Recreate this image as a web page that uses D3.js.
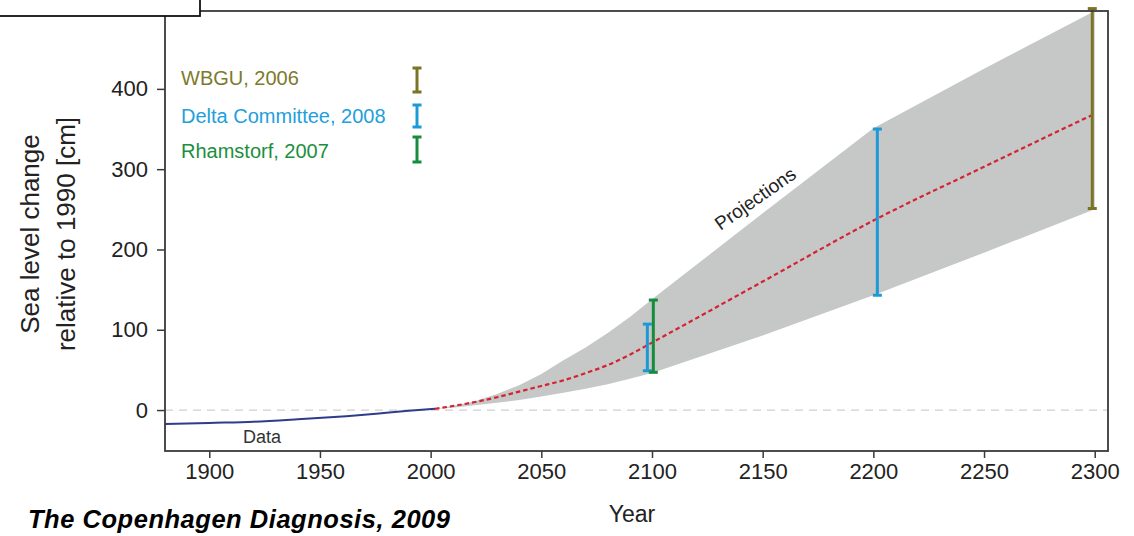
<!DOCTYPE html>
<html>
<head>
<meta charset="utf-8">
<script src="https://cdn.jsdelivr.net/npm/d3@7"></script>
<style>
  body { margin: 0; background: #fff; }
  svg { display: block; font-family: "Liberation Sans", Arial, Helvetica, sans-serif; }
</style>
</head>
<body>
<svg id="chart" width="1134" height="536"></svg>
<script>
// observed sea level (tide gauges)
const dataYears = [1880, 1900, 1920, 1940, 1960, 1970, 1980, 1990, 2002];
const dataLevels = [-17.5, -16, -14.5, -11.5, -8, -6, -3.5, -1, 1.5];

// projection band + median
const projYears = [2002, 2010, 2020, 2030, 2040, 2050, 2060, 2070, 2080, 2090, 2100, 2150, 2200, 2250, 2300];
const projMedian = [1.5, 5, 10, 16, 23, 30, 37, 46, 56, 69, 84, 160, 236, 303, 369];
const projUpper = [1.5, 5, 11, 20, 31, 45, 62, 78, 96, 116, 138, 245, 351, 425, 497];
const projLower = [1.5, 3, 6, 9, 12.5, 17, 21.5, 26.5, 32, 39, 46, 93, 143, 196, 250];

// published estimates (error bars)
const barSources = ['Delta Committee, 2008', 'Rhamstorf, 2007', 'Delta Committee, 2008', 'WBGU, 2006'];
const barYears = [2097.9, 2100.6, 2201.8, 2298.9];
const barLow = [49, 47, 143, 251];
const barHigh = [107, 137, 350, 500];

const legendNames = ['WBGU, 2006', 'Delta Committee, 2008', 'Rhamstorf, 2007'];
const xTicks = [1900, 1950, 2000, 2050, 2100, 2150, 2200, 2250, 2300];
const yTicks = [0, 100, 200, 300, 400, 500];

const textColor = {
  'WBGU, 2006': '#7d7a2c',
  'Delta Committee, 2008': '#22a0dc',
  'Rhamstorf, 2007': '#1b8f3e'
};
const barColor = {
  'WBGU, 2006': '#7a7524',
  'Delta Committee, 2008': '#1c9ad6',
  'Rhamstorf, 2007': '#168c3d'
};

const plotL = 165, plotR = 1108, plotT = 11, plotB = 451;

const svg = d3.select('#chart');

const x = d3.scaleLinear().domain([1880, 2306]).range([plotL, plotR]);
const y = d3.scaleLinear().domain([-51, 497]).range([plotB, plotT]);

// zero reference line
svg.append('line')
  .attr('x1', plotL).attr('x2', plotR)
  .attr('y1', y(0)).attr('y2', y(0))
  .attr('stroke', '#cfcfcf')
  .attr('stroke-width', 1.2)
  .attr('stroke-dasharray', '8,6');

const proj = projYears.map((yr, i) => ({ yr, lo: projLower[i], hi: projUpper[i], med: projMedian[i] }));

const area = d3.area()
  .x(d => x(d.yr))
  .y0(d => y(d.lo))
  .y1(d => y(d.hi));

svg.append('path')
  .datum(proj)
  .attr('d', area)
  .attr('fill', '#c6c7c7');

const obs = dataYears.map((yr, i) => ({ yr, v: dataLevels[i] }));

svg.append('path')
  .datum(obs)
  .attr('d', d3.line().x(d => x(d.yr)).y(d => y(d.v)).curve(d3.curveMonotoneX))
  .attr('fill', 'none')
  .attr('stroke', '#2f3b8c')
  .attr('stroke-width', 2);

svg.append('path')
  .datum(proj)
  .attr('d', d3.line().x(d => x(d.yr)).y(d => y(d.med)).curve(d3.curveMonotoneX))
  .attr('fill', 'none')
  .attr('stroke', '#d42331')
  .attr('stroke-width', 2.2)
  .attr('stroke-dasharray', '4.5,3');

// error bars
const drawBar = (g, cx, y1, y2, color) => {
  g.append('line')
    .attr('x1', cx).attr('x2', cx).attr('y1', y1).attr('y2', y2)
    .attr('stroke', color).attr('stroke-width', 3);
  [y1, y2].forEach(yy => {
    g.append('line')
      .attr('x1', cx - 4.5).attr('x2', cx + 4.5).attr('y1', yy).attr('y2', yy)
      .attr('stroke', color).attr('stroke-width', 3);
  });
};

const bars = svg.append('g');
barSources.forEach((s, i) => {
  drawBar(bars, x(barYears[i]), y(barHigh[i]), y(barLow[i]), barColor[s]);
});

// frame
svg.append('rect')
  .attr('x', plotL).attr('y', plotT)
  .attr('width', plotR - plotL).attr('height', plotB - plotT)
  .attr('fill', 'none')
  .attr('stroke', '#3a3a3a')
  .attr('stroke-width', 1.8);

const yAxis = svg.append('g')
  .attr('transform', `translate(${plotL},0)`)
  .call(d3.axisLeft(y).tickValues(yTicks).tickSize(8).tickPadding(9));
yAxis.select('.domain').remove();
yAxis.selectAll('line').attr('stroke', '#3a3a3a').attr('stroke-width', 1.5);
yAxis.selectAll('text').attr('font-size', 22).attr('fill', '#222').attr('font-family', null);

const xAxis = svg.append('g')
  .attr('transform', `translate(0,${plotB})`)
  .call(d3.axisBottom(x).tickValues(xTicks).tickFormat(d3.format('d')).tickSize(7).tickPadding(5));
xAxis.select('.domain').remove();
xAxis.selectAll('line').attr('stroke', '#3a3a3a').attr('stroke-width', 1.5);
xAxis.selectAll('text').attr('font-size', 22).attr('fill', '#222').attr('font-family', null);

// labels
svg.append('text')
  .attr('transform', 'translate(39,234) rotate(-90)')
  .attr('text-anchor', 'middle')
  .attr('font-size', 26)
  .attr('fill', '#222')
  .text('Sea level change');
svg.append('text')
  .attr('transform', 'translate(75,234) rotate(-90)')
  .attr('text-anchor', 'middle')
  .attr('font-size', 26)
  .attr('fill', '#222')
  .text('relative to 1990 [cm]');

svg.append('text')
  .attr('x', 632).attr('y', 522)
  .attr('text-anchor', 'middle')
  .attr('font-size', 23)
  .attr('fill', '#222')
  .text('Year');

svg.append('text')
  .attr('x', 243).attr('y', 443)
  .attr('font-size', 18)
  .attr('fill', '#333')
  .text('Data');

svg.append('text')
  .attr('transform', 'translate(759,204) rotate(-35)')
  .attr('text-anchor', 'middle')
  .attr('font-size', 19)
  .attr('fill', '#222')
  .text('Projections');

svg.append('text')
  .attr('x', 28).attr('y', 528)
  .attr('font-size', 25.5)
  .attr('font-weight', 'bold')
  .attr('font-style', 'italic')
  .attr('fill', '#000')
  .attr('textLength', 422)
  .attr('lengthAdjust', 'spacing')
  .text('The Copenhagen Diagnosis, 2009');

// legend
const legendBase = [85, 123, 158];
const legendBars = [[68, 92], [105, 127], [137, 162]];
legendNames.forEach((n, i) => {
  svg.append('text')
    .attr('x', 181).attr('y', legendBase[i])
    .attr('font-size', 20)
    .attr('fill', textColor[n])
    .text(n);
  drawBar(svg, 417, legendBars[i][0], legendBars[i][1], barColor[n]);
});

// box in the top-left corner
svg.append('rect')
  .attr('x', -2).attr('y', -2)
  .attr('width', 202).attr('height', 18)
  .attr('fill', '#fff')
  .attr('stroke', '#111')
  .attr('stroke-width', 1.8);
</script>
</body>
</html>
